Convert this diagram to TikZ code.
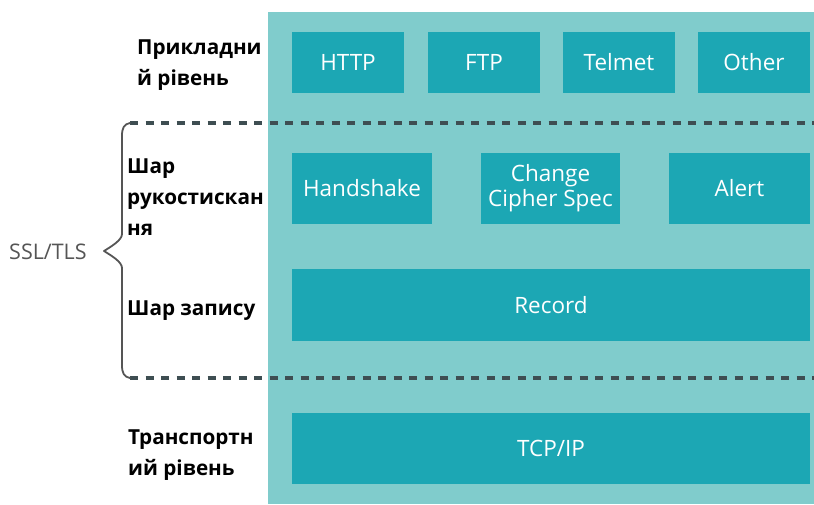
\documentclass[tikz,border=0pt]{standalone}
\usepackage{fontspec}
\setmainfont{Open Sans}
\definecolor{panelc}{HTML}{80CCCC}
\definecolor{boxc}{HTML}{1CA7B4}
\definecolor{dashc}{HTML}{3E4E52}
\definecolor{bracec}{HTML}{555555}
\begin{document}
\begin{tikzpicture}[x=1pt,y=-1pt,
  boxnode/.style={fill=boxc, text=white, inner sep=0pt, align=center,
    font=\fontsize{22.5}{28}\selectfont},
  lbl/.style={anchor=west, align=left, inner sep=0pt, text=black,
    font=\bfseries\fontsize{20.7}{31}\selectfont},
  dashline/.style={draw=dashc, line width=3.2pt, dash pattern=on 8pt off 7.5pt},
]
\useasboundingbox (0,0) rectangle (814,504);
\fill[white] (0,0) rectangle (814,504);
% background panel
\node[fill=panelc, inner sep=0pt, minimum width=546, minimum height=492, anchor=north west] (panel) at (268,12) {};
% application layer
\node[boxnode, minimum width=112, minimum height=61] (http) at (348,62.5) {HTTP};
\node[boxnode, minimum width=112, minimum height=61] (ftp) at (484,62.5) {FTP};
\node[boxnode, minimum width=112, minimum height=61] (telmet) at (619,62.5) {Telmet};
\node[boxnode, minimum width=112, minimum height=61] (other) at (754,62.5) {Other};
% handshake layer
\node[boxnode, minimum width=140, minimum height=71] (hs) at (362,188.5) {Handshake};
\node[boxnode, minimum width=139, minimum height=71] (ccs) at (550.5,188.5) {Change\\[-3pt]Cipher Spec};
\node[boxnode, minimum width=141, minimum height=71] (alert) at (739.5,188.5) {Alert};
% record layer
\node[boxnode, minimum width=518, minimum height=72] (rec) at (551,305) {Record};
% transport
\node[boxnode, minimum width=518, minimum height=71] (tcp) at (551,448.5) {TCP/IP};
% dashed separators
\coordinate (d1s) at (130,123); \coordinate (d1e) at (814,123);
\coordinate (d2s) at (130,378); \coordinate (d2e) at (814,378);
\draw[dashline] (d1s) -- (d1e);
\draw[dashline] (d2s) -- (d2e);
% brace
\coordinate (btop) at (130,123);
\coordinate (bbot) at (130,378);
\coordinate (btip) at (104,251);
\draw[bracec, line width=1.8pt, line cap=round, line join=round]
  (btop) .. controls (124,124) and (122,128) .. (122,136)
  -- (122,234) .. controls (122,240) and (112,246) .. (btip)
  .. controls (112,256) and (122,262) .. (122,268)
  -- (122,365) .. controls (122,373) and (124,377) .. (bbot);
% labels
\node[lbl] (app) at (137,65) {Прикладни\\й рівень};
\node[lbl] (hsl) at (127,197) {Шар\\рукостискан\\ня};
\node[lbl] (recl) at (127,311) {Шар запису};
\node[lbl] (trl) at (128,455) {Транспортн\\ий рівень};
\node[anchor=west, inner sep=0pt, text=bracec, font=\fontsize{21.5}{24}\selectfont] (ssl) at (9,252) {SSL/TLS};
\end{tikzpicture}
\end{document}
